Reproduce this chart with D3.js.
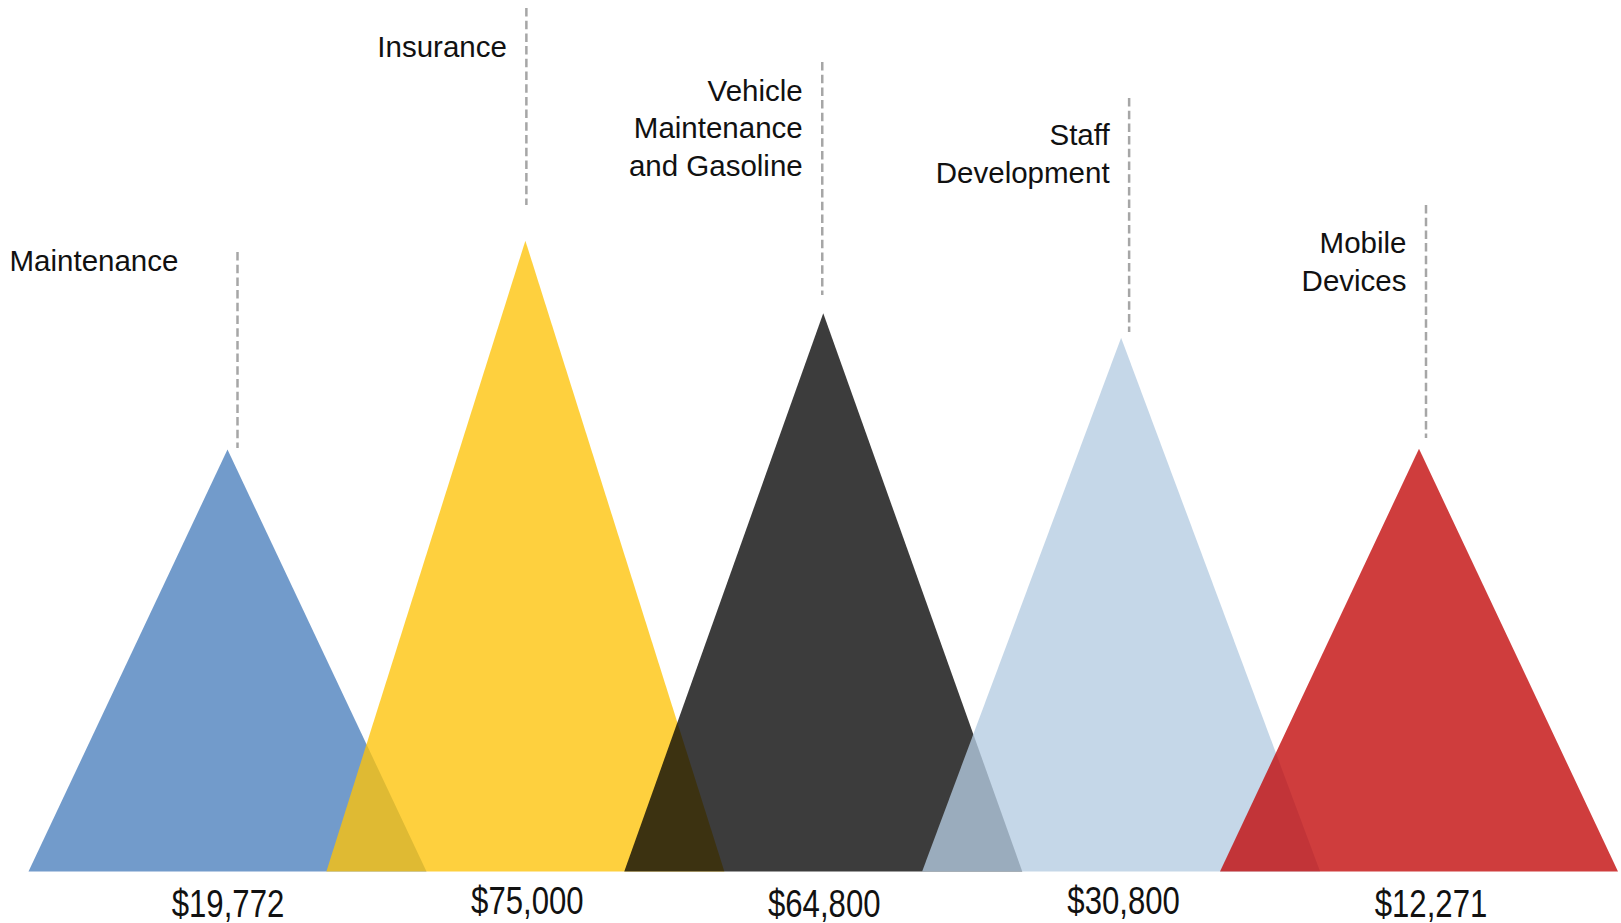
<!DOCTYPE html>
<html lang="en">
<head>
    <meta charset="UTF-8">
    <script src="https://d3js.org/d3.v7.min.js"></script>
    <title>Budget</title>
    <style>
        body { margin: 0; background: #fff; }
        text { font-family: "Liberation Sans", Arial, sans-serif; fill: #111; }
    </style>
</head>
<body>
<script>
    // Data
    const categories = ["Maintenance", "Insurance", "Vehicle Maintenance and Gasoline", "Staff Development", "Mobile Devices"];
    const labelLines = [["Maintenance"], ["Insurance"], ["Vehicle", "Maintenance", "and Gasoline"], ["Staff", "Development"], ["Mobile", "Devices"]];
    const amounts = [19772, 75000, 64800, 30800, 12271];
    // drawn peak heights, % of the tallest (the picture does not scale them to the amounts)
    const peaks = [66.9, 100, 88.5, 84.6, 67];
    const colors = ["#4a7fbc", "#fec308", "#050505", "#b5cce2", "#c20606"];

    // Layout
    const width = 1621, height = 923;
    const baseY = 871.5, topY = 240.7;
    const halfBase = 199;
    const callouts = [
        {dx: 10, top: 252, bottom: 448, anchor: "start", tx: -228, ty: 270.7, vdx: 0.5, vy: 916.5},
        {dx: 1, top: 8, bottom: 205, anchor: "end", tx: -19.5, ty: 56.7, vdx: 2, vy: 914},
        {dx: -1, top: 62, bottom: 295, anchor: "end", tx: -19.5, ty: 100.7, vdx: 1, vy: 916.5},
        {dx: 8, top: 98, bottom: 332, anchor: "end", tx: -19.5, ty: 145, vdx: 2.5, vy: 914},
        {dx: 7, top: 205, bottom: 438, anchor: "end", tx: -19.5, ty: 253.3, vdx: 12, vy: 916.5}
    ];

    const rows = categories.map((c, i) => ({
        name: c, lines: labelLines[i], amount: amounts[i], peak: peaks[i], color: colors[i], co: callouts[i]
    }));

    const svg = d3.select("body").append("svg")
        .attr("width", width)
        .attr("height", height);

    const x = d3.scalePoint()
        .domain(categories)
        .range([227.5, 1419]);

    const y = d3.scaleLinear()
        .domain([0, 100])
        .range([baseY, topY]);

    const tri = d3.line();

    // Triangles
    svg.selectAll(".peak")
        .data(rows)
        .enter().append("path")
        .attr("class", "peak")
        .attr("fill", d => d.color)
        .attr("fill-opacity", 0.78)
        .attr("d", d => {
            const cx = x(d.name);
            return tri([[cx - halfBase, y(0)], [cx, y(d.peak)], [cx + halfBase, y(0)]]) + "Z";
        });

    // Callout lines
    svg.selectAll(".leader")
        .data(rows)
        .enter().append("line")
        .attr("class", "leader")
        .attr("x1", d => x(d.name) + d.co.dx)
        .attr("x2", d => x(d.name) + d.co.dx)
        .attr("y1", d => d.co.top)
        .attr("y2", d => d.co.bottom)
        .attr("stroke", "#a6a6a6")
        .attr("stroke-width", 2.5)
        .attr("stroke-dasharray", "8.5,4.2");

    // Category labels
    const lab = svg.selectAll(".cat")
        .data(rows)
        .enter().append("text")
        .attr("class", "cat")
        .attr("text-anchor", d => d.co.anchor)
        .attr("font-size", 29.5)
        .attr("y", d => d.co.ty);
    lab.selectAll("tspan")
        .data(d => d.lines.map(l => ({l, d})))
        .enter().append("tspan")
        .attr("x", t => x(t.d.name) + t.d.co.dx + t.d.co.tx)
        .attr("dy", (t, i) => i === 0 ? 0 : 37.5)
        .text(t => t.l);

    // Amount labels
    const fmt = d3.format("$,");
    svg.selectAll(".amt")
        .data(rows)
        .enter().append("text")
        .attr("class", "amt")
        .attr("text-anchor", "middle")
        .attr("font-size", 38)
        .attr("transform", d => "translate(" + (x(d.name) + d.co.vdx) + "," + d.co.vy + ") scale(0.82,1)")
        .text(d => fmt(d.amount));
</script>
</body>
</html>
